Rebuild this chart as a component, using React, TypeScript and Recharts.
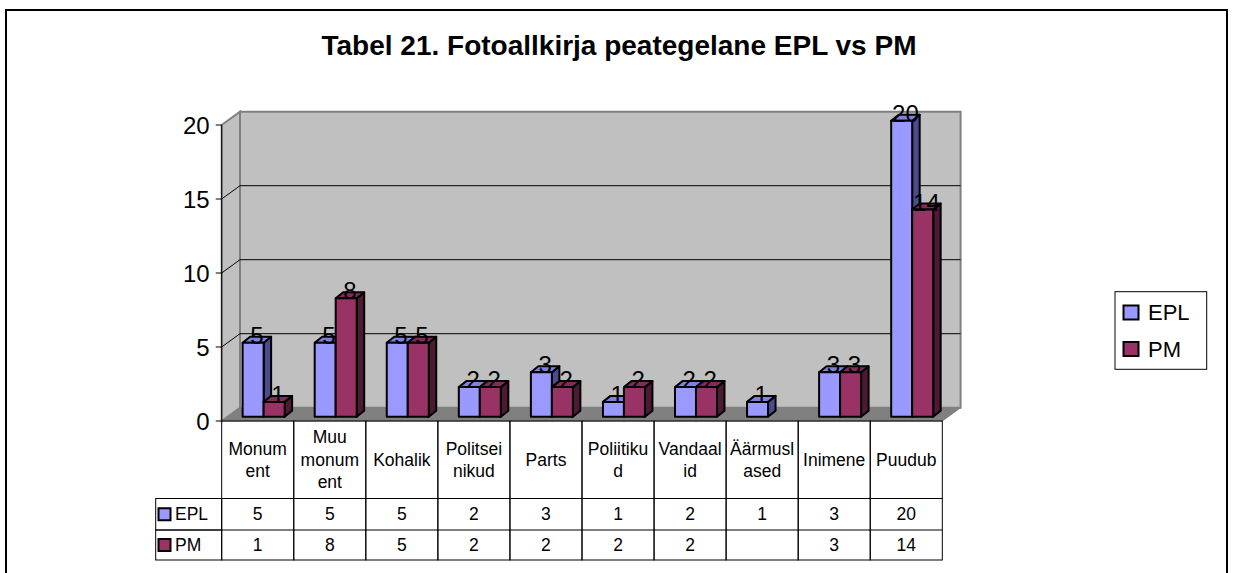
import React from "react";
import {
  BarChart,
  Bar,
  XAxis,
  YAxis,
  CartesianGrid,
  LabelList,
  Customized,
} from "recharts";

const categories = [
  "Monument",
  "Muu monument",
  "Kohalik",
  "Politseinikud",
  "Parts",
  "Poliitikud",
  "Vandaalid",
  "Äärmuslased",
  "Inimene",
  "Puudub",
];
// how Excel wrapped the labels in the table header
const categoryLines = [
  ["Monum", "ent"],
  ["Muu", "monum", "ent"],
  ["Kohalik"],
  ["Politsei", "nikud"],
  ["Parts"],
  ["Poliitiku", "d"],
  ["Vandaal", "id"],
  ["Äärmusl", "ased"],
  ["Inimene"],
  ["Puudub"],
];
const eplValues: (number | null)[] = [5, 5, 5, 2, 3, 1, 2, 1, 3, 20];
const pmValues: (number | null)[] = [1, 8, 5, 2, 2, 2, 2, null, 3, 14];
const yTicks = [0, 5, 10, 15, 20];
const seriesNames = ["EPL", "PM"];

const data = categories.map((name, i) => ({
  name,
  EPL: eplValues[i],
  PM: pmValues[i],
}));

const FONT = "'Liberation Sans', Arial, sans-serif";
const W = 1234;
const H = 573;

// front plane of the plot
const PLOT_LEFT = 221.7;
const PLOT_RIGHT = 942.3;
const PLOT_TOP = 125;
const PLOT_BOTTOM = 421;
const BAND = (PLOT_RIGHT - PLOT_LEFT) / categories.length;

// wall depth
const WALL_DX = 18.3;
const WALL_DY = -13.3;
// bars stand a bit behind the front edge
const SHIFT_X = 5.8;
const SHIFT_Y = -4.3;
// depth of a single column
const BAR_DX = 7.5;
const BAR_DY = -6;

// data table rows
const TABLE_LEFT = 155.7;
const HEADER_BOTTOM = 498.5;
const ROW1_BOTTOM = 530;
const ROW2_BOTTOM = 560;

const colors = {
  EPL: { front: "#9999FF", top: "#8080E0", side: "#4C4C8C" },
  PM: { front: "#993366", top: "#86295A", side: "#4D1A33" },
};

const Column3D = (props: any) => {
  const { x, y, width, height, front, top, side } = props;
  if (height == null || height <= 0 || isNaN(y)) return null;
  const fx = x + SHIFT_X;
  const fy = y + SHIFT_Y;
  const w = width;
  const h = height;
  const common = {
    stroke: "#000",
    strokeWidth: 2,
    strokeLinejoin: "round" as const,
  };
  return (
    <g>
      <polygon
        points={`${fx + w},${fy} ${fx + w + BAR_DX},${fy + BAR_DY} ${fx + w + BAR_DX},${fy + h + BAR_DY} ${fx + w},${fy + h}`}
        fill={side}
        {...common}
      />
      <polygon
        points={`${fx},${fy} ${fx + BAR_DX},${fy + BAR_DY} ${fx + w + BAR_DX},${fy + BAR_DY} ${fx + w},${fy}`}
        fill={top}
        {...common}
      />
      <rect x={fx} y={fy} width={w} height={h} fill={front} {...common} />
    </g>
  );
};

const ValueLabel = (props: any) => {
  const { x, y, width, value } = props;
  if (value == null) return null;
  return (
    <text
      x={x + width / 2 + SHIFT_X + BAR_DX / 2}
      y={y + SHIFT_Y + 1}
      textAnchor="middle"
      fontFamily={FONT}
      fontSize={24}
      fill="#000"
    >
      {value}
    </text>
  );
};

// frame, title and the grey walls sit in a plain svg under the chart
const Backdrop = () => (
  <svg width={W} height={H} style={{ position: "absolute", left: 0, top: 0 }}>
    <rect x={6} y={10} width={1221} height={600} fill="#fff" stroke="#000" strokeWidth={2} />
    <text
      x={619}
      y={55}
      textAnchor="middle"
      fontFamily={FONT}
      fontWeight="bold"
      fontSize={28}
      fill="#000"
    >
      Tabel 21. Fotoallkirja peategelane EPL vs PM
    </text>
    <polygon
      points={`${PLOT_LEFT},${PLOT_BOTTOM} ${PLOT_LEFT},${PLOT_TOP} ${PLOT_LEFT + WALL_DX},${PLOT_TOP + WALL_DY} ${PLOT_LEFT + WALL_DX},${PLOT_BOTTOM + WALL_DY}`}
      fill="#C0C0C0"
      stroke="#808080"
      strokeWidth={2}
    />
    <polygon
      points={`${PLOT_LEFT + WALL_DX},${PLOT_TOP + WALL_DY} ${PLOT_RIGHT + WALL_DX},${PLOT_TOP + WALL_DY} ${PLOT_RIGHT + WALL_DX},${PLOT_BOTTOM + WALL_DY} ${PLOT_LEFT + WALL_DX},${PLOT_BOTTOM + WALL_DY}`}
      fill="#C0C0C0"
      stroke="#808080"
      strokeWidth={2}
    />
    <polygon
      points={`${PLOT_LEFT},${PLOT_BOTTOM} ${PLOT_RIGHT},${PLOT_BOTTOM} ${PLOT_RIGHT + WALL_DX},${PLOT_BOTTOM + WALL_DY} ${PLOT_LEFT + WALL_DX},${PLOT_BOTTOM + WALL_DY}`}
      fill="#808080"
      stroke="#808080"
      strokeWidth={1}
    />
  </svg>
);

const GridLine = (props: any) => {
  const { x1, y1, x2, y2 } = props;
  if (Math.abs(y1 - PLOT_TOP) < 1 || Math.abs(y1 - PLOT_BOTTOM) < 1) return <g />;
  return (
    <g>
      <line x1={x1} y1={y1} x2={x1 + WALL_DX} y2={y1 + WALL_DY} stroke="#000" strokeWidth={1} />
      <line
        x1={x1 + WALL_DX}
        y1={y1 + WALL_DY}
        x2={x2 + WALL_DX}
        y2={y2 + WALL_DY}
        stroke="#000"
        strokeWidth={1}
      />
    </g>
  );
};

const TableColumn = (props: any) => {
  const { x, index } = props;
  const left = x - BAND / 2;
  const lines = categoryLines[index] || [];
  const lh = 22.5;
  const mid = (PLOT_BOTTOM + HEADER_BOTTOM) / 2;
  const start = mid - ((lines.length - 1) * lh) / 2;
  const e = eplValues[index];
  const p = pmValues[index];
  return (
    <g fontFamily={FONT} fontSize={17.5} fill="#000">
      <rect x={left} y={PLOT_BOTTOM} width={BAND} height={ROW2_BOTTOM - PLOT_BOTTOM} fill="none" stroke="#000" strokeWidth={1} />
      <line x1={left} y1={HEADER_BOTTOM} x2={left + BAND} y2={HEADER_BOTTOM} stroke="#000" strokeWidth={1} />
      <line x1={left} y1={ROW1_BOTTOM} x2={left + BAND} y2={ROW1_BOTTOM} stroke="#000" strokeWidth={1} />
      {lines.map((t, i) => (
        <text key={i} x={x} y={start + i * lh} dy="0.35em" textAnchor="middle">
          {t}
        </text>
      ))}
      <text x={x} y={(HEADER_BOTTOM + ROW1_BOTTOM) / 2} dy="0.35em" textAnchor="middle">
        {e == null ? "" : e}
      </text>
      <text x={x} y={(ROW1_BOTTOM + ROW2_BOTTOM) / 2} dy="0.35em" textAnchor="middle">
        {p == null ? "" : p}
      </text>
    </g>
  );
};

const TableKeys = () => {
  const rows = [
    { name: seriesNames[0], color: colors.EPL.front, top: HEADER_BOTTOM, bottom: ROW1_BOTTOM },
    { name: seriesNames[1], color: colors.PM.front, top: ROW1_BOTTOM, bottom: ROW2_BOTTOM },
  ];
  return (
    <g fontFamily={FONT} fontSize={17.5} fill="#000">
      {rows.map((r) => {
        const mid = (r.top + r.bottom) / 2;
        return (
          <g key={r.name}>
            <rect x={TABLE_LEFT} y={r.top} width={PLOT_LEFT - TABLE_LEFT} height={r.bottom - r.top} fill="none" stroke="#000" strokeWidth={1} />
            <rect x={158.5} y={mid - 6} width={12} height={12} fill={r.color} stroke="#000" strokeWidth={2} />
            <text x={175} y={mid} dy="0.35em">
              {r.name}
            </text>
          </g>
        );
      })}
    </g>
  );
};

const LegendBox = () => {
  const items = [
    { name: seriesNames[0], color: colors.EPL.front, y: 312.5 },
    { name: seriesNames[1], color: colors.PM.front, y: 349 },
  ];
  return (
    <g fontFamily={FONT} fontSize={22} fill="#000">
      <rect x={1115} y={291.7} width={91.7} height={77.6} fill="#fff" stroke="#000" strokeWidth={1} />
      {items.map((it) => (
        <g key={it.name}>
          <rect x={1123.5} y={it.y - 7} width={15} height={14} fill={it.color} stroke="#000" strokeWidth={2} />
          <text x={1148} y={it.y} dy="0.35em">
            {it.name}
          </text>
        </g>
      ))}
    </g>
  );
};

export default function App() {
  return (
    <div style={{ position: "absolute", left: 0, top: 0, width: W, height: H, background: "#fff" }}>
      <Backdrop />
      <div style={{ position: "absolute", left: 0, top: 0 }}>
        <BarChart
          width={W}
          height={H}
          data={data}
          margin={{ top: PLOT_TOP, right: W - PLOT_RIGHT, bottom: 12, left: PLOT_LEFT - 60 }}
          barCategoryGap="21%"
          barGap={0}
        >
          <CartesianGrid vertical={false} horizontal={GridLine} />
          <XAxis
            dataKey="name"
            height={H - PLOT_BOTTOM - 12}
            axisLine={false}
            tickLine={false}
            interval={0}
            tick={TableColumn}
          />
          <YAxis
            width={60}
            domain={[0, 20]}
            ticks={yTicks}
            interval={0}
            axisLine={{ stroke: "#000", strokeWidth: 1 }}
            tickLine={{ stroke: "#000", strokeWidth: 1 }}
            tickSize={6}
            tickMargin={6}
            tick={{ fontFamily: FONT, fontSize: 24, fill: "#000" }}
          />
          <Bar
            dataKey="EPL"
            name={seriesNames[0]}
            fill={colors.EPL.front}
            isAnimationActive={false}
            shape={(p: any) => <Column3D {...p} front={colors.EPL.front} top={colors.EPL.top} side={colors.EPL.side} />}
          >
            <LabelList dataKey="EPL" content={ValueLabel} />
          </Bar>
          <Bar
            dataKey="PM"
            name={seriesNames[1]}
            fill={colors.PM.front}
            isAnimationActive={false}
            shape={(p: any) => <Column3D {...p} front={colors.PM.front} top={colors.PM.top} side={colors.PM.side} />}
          >
            <LabelList dataKey="PM" content={ValueLabel} />
          </Bar>
          <Customized component={TableKeys} />
          <Customized component={LegendBox} />
        </BarChart>
      </div>
    </div>
  );
}
